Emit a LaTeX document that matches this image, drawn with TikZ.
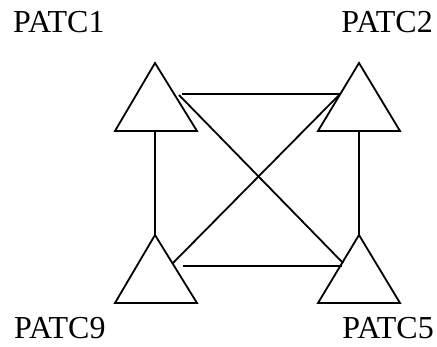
\documentclass[tikz,border=0pt]{standalone}
\usepackage{fontspec}
\setmainfont{Liberation Serif}
\begin{document}
\begin{tikzpicture}[x=1pt,y=-1pt,
  tri/.style={draw,line width=1.8pt,line join=miter},
  link/.style={draw,line width=1.8pt},
  lbl/.style={inner sep=0pt,text depth=0pt,font=\fontsize{32}{38}\selectfont}]
\useasboundingbox (0,0) rectangle (437,347);
% triangles
\draw[tri] (155,63) -- (197,131) -- (115,131) -- cycle;
\draw[tri] (359,63) -- (400,131) -- (318,131) -- cycle;
\draw[tri] (155,235) -- (197,303) -- (115,303) -- cycle;
\draw[tri] (359,235) -- (400,303) -- (318,303) -- cycle;
% connection points
\coordinate (p1b) at (155,131);
\coordinate (p1h) at (182,94);
\coordinate (p1d) at (179,95);
\coordinate (p2b) at (359,131);
\coordinate (p2h) at (340,94);
\coordinate (p2d) at (340,94);
\coordinate (p9t) at (155,235);
\coordinate (p9h) at (183,266);
\coordinate (p9d) at (173,263);
\coordinate (p5t) at (359,235);
\coordinate (p5h) at (342,266);
\coordinate (p5d) at (343,263);
% connectors
\draw[link] (p1b) -- (p9t);
\draw[link] (p2b) -- (p5t);
\draw[link] (p1h) -- (p2h);
\draw[link] (p9h) -- (p5h);
\draw[link] (p1d) -- (p5d);
\draw[link] (p2d) -- (p9d);
% labels
\node[lbl,anchor=base west] (l1) at (13,33) {PATC1};
\node[lbl,anchor=base east] (l2) at (433,33) {PATC2};
\node[lbl,anchor=base west] (l9) at (14,339) {PATC9};
\node[lbl,anchor=base east] (l5) at (434,339) {PATC5};
\end{tikzpicture}
\end{document}
